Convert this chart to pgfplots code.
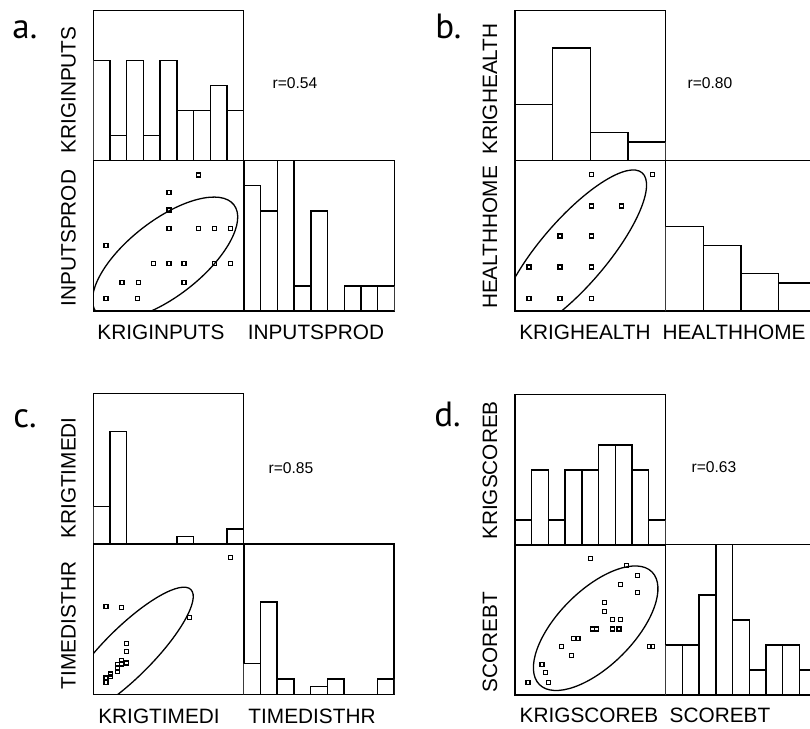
\documentclass[border=0pt]{standalone}
\usepackage{fontspec}
\setmainfont{Liberation Sans}
\newfontfamily\letterfont{PT Sans}
\usepackage{pgfplots}
\pgfplotsset{compat=1.18}
\pgfplotsset{
  cell/.style={scale only axis, width=75.25pt, height=75.25pt, xtick=\empty, ytick=\empty,
    axis line style={line width=0.7pt}, anchor=south west},
  hist/.style={cell, ymin=0, xmin=0},
  scat/.style={cell, xmin=0, xmax=100, ymin=0, ymax=100},
  bars/.style={ybar interval, fill=white, draw=black, line width=0.7pt},
  pts/.style={only marks, mark=square, mark size=1pt,
    mark options={line width=0.6pt, draw=black, fill=white}},
}
\tikzset{ell/.style={line width=0.65pt, black}}
\newcommand{\lab}{\fontsize{10.4}{12}\selectfont}
\newcommand{\rlab}{\fontsize{7.8}{9}\selectfont}
\newcommand{\plab}{\letterfont\fontsize{17.5}{20}\selectfont}
\begin{document}
\begin{tikzpicture}
\path[use as bounding box] (0,0) rectangle (405pt,364.5pt);
\clip (0,0) rectangle (405pt,364.5pt);

% ===== Panel a =====
\begin{axis}[hist, at={(46.65pt,284.1pt)}, xmax=9, ymax=6]
\addplot[bars] coordinates {(0,4) (1,1) (2,4) (3,1) (4,4) (5,2) (6,2) (7,3) (8,2) (9,0)};
\end{axis}
\begin{axis}[scat, at={(46.65pt,208.9pt)}]
\addplot[pts] coordinates {(70.1,90.5) (50.3,78.9) (50.3,67.2) (50.3,55.0) (70.1,55.0) (80.3,55.0) (90.9,55.0) (8.4,43.5) (39.9,31.7) (50.3,31.7) (60.3,31.7) (80.3,31.7) (90.9,31.7) (19.1,19.3) (29.9,19.3) (60.3,19.3) (8.4,8.2) (29.5,8.2)};
\begin{scope}
\clip (rel axis cs:0,0) rectangle (rel axis cs:1,1);
\draw[ell, rotate around={38:(axis cs:47.7,35)}] (axis cs:47.7,35) ellipse [x radius=43.65pt, y radius=18.89pt];
\end{scope}
\end{axis}
\begin{axis}[hist, at={(122pt,208.9pt)}, xmax=9, ymax=6]
\addplot[bars] coordinates {(0,5) (1,4) (2,6) (3,1) (4,4) (5,0) (6,1) (7,1) (8,1) (9,0)};
\end{axis}

% ===== Panel b =====
\begin{axis}[hist, at={(257.5pt,284.1pt)}, xmax=4, ymax=16]
\addplot[bars] coordinates {(0,6) (1,12) (2,3) (3,2) (4,0)};
\end{axis}
\begin{axis}[scat, at={(257.5pt,208.9pt)}]
\addplot[pts] coordinates {(50.7,90.7) (91.4,90.7) (50.7,69.9) (70.6,69.9) (29.9,50.0) (50.7,50.0) (9.3,29.4) (29.9,29.4) (50.7,29.4) (9.3,8.4) (29.9,8.4) (50.7,8.4)};
\begin{scope}
\clip (rel axis cs:0,0) rectangle (rel axis cs:1,1);
\draw[ell, rotate around={49.3:(axis cs:38.5,38.5)}] (axis cs:38.5,38.5) ellipse [x radius=53.05pt, y radius=16.56pt];
\end{scope}
\end{axis}
\begin{axis}[hist, at={(332.85pt,208.9pt)}, xmax=4, ymax=16]
\addplot[bars] coordinates {(0,9) (1,7) (2,4) (3,3) (4,0)};
\end{axis}

% ===== Panel c =====
\begin{axis}[hist, at={(46.65pt,92.4pt)}, xmax=9, ymax=20]
\addplot[bars] coordinates {(0,5) (1,15) (2,0) (3,0) (4,0) (5,1) (6,0) (7,0) (8,2) (9,0)};
\end{axis}
\begin{axis}[scat, at={(46.65pt,17.25pt)}]
\addplot[pts] coordinates {(90.9,90.9) (8.4,58.7) (18.9,57.6) (63.8,51.1) (22.0,33.8) (22.0,28.7) (22.0,20.9) (18.9,22.4) (18.9,20.2) (16.0,19.8) (16.0,17.6) (16.0,15.1) (11.6,13.6) (11.6,11.8) (8.4,10.9) (8.4,8.2)};
\begin{scope}
\clip (rel axis cs:0,0) rectangle (rel axis cs:1,1);
\draw[ell, rotate around={45:(axis cs:22.9,27.8)}] (axis cs:22.9,27.8) ellipse [x radius=44.62pt, y radius=12.34pt];
\end{scope}
\end{axis}
\begin{axis}[hist, at={(121.85pt,17.25pt)}, xmax=9, ymax=19.5]
\addplot[bars] coordinates {(0,4) (1,12) (2,2) (3,0) (4,1) (5,2) (6,0) (7,0) (8,2) (9,0)};
\end{axis}

% ===== Panel d =====
\begin{axis}[hist, at={(257.5pt,91.9pt)}, xmax=9, ymax=6]
\addplot[bars] coordinates {(0,1) (1,3) (2,1) (3,3) (4,3) (5,4) (6,4) (7,3) (8,1) (9,0)};
\end{axis}
\begin{axis}[scat, at={(257.5pt,16.9pt)}]
\addplot[pts] coordinates {(50.0,90.9) (74.0,86.4) (81.3,79.6) (70.2,73.3) (81.3,68.0) (59.6,61.8) (59.6,55.6) (64.9,50.2) (70.0,50.2) (51.3,44.0) (54.2,44.0) (64.9,44.0) (69.1,44.0) (38.7,37.8) (41.8,37.8) (31.1,32.4) (89.1,32.4) (91.3,32.4) (37.8,26.2) (18.0,20.2) (20.0,14.9) (8.7,8.7) (22.2,8.7)};
\begin{scope}
\clip (rel axis cs:0,0) rectangle (rel axis cs:1,1);
\draw[ell, rotate around={45:(axis cs:53.6,44.5)}] (axis cs:53.6,44.5) ellipse [x radius=39.81pt, y radius=18.81pt];
\end{scope}
\end{axis}
\begin{axis}[hist, at={(332.85pt,16.9pt)}, xmax=9, ymax=6]
\addplot[bars] coordinates {(0,2) (1,2) (2,4) (3,6) (4,3) (5,1) (6,2) (7,2) (8,1) (9,0)};
\end{axis}

% ===== Text =====
\node[anchor=base west, inner sep=0] at (6pt,345pt) {\plab a.};
\node[anchor=base west, inner sep=0] at (217.5pt,345pt) {\plab b.};
\node[anchor=base west, inner sep=0] at (6.5pt,150.5pt) {\plab c.};
\node[anchor=base west, inner sep=0] at (217pt,151pt) {\plab d.};

\node[anchor=base, inner sep=0] at (80.5pt,194.5pt) {\lab KRIGINPUTS};
\node[anchor=base, inner sep=0] at (158pt,194.5pt) {\lab INPUTSPROD};
\node[anchor=base, inner sep=0] at (292.5pt,194.5pt) {\lab KRIGHEALTH};
\node[anchor=base, inner sep=0] at (367pt,194.5pt) {\lab HEALTHHOME};
\node[anchor=base, inner sep=0] at (79.5pt,2.85pt) {\lab KRIGTIMEDI};
\node[anchor=base, inner sep=0] at (156pt,2.85pt) {\lab TIMEDISTHR};
\node[anchor=base, inner sep=0] at (294.5pt,3pt) {\lab KRIGSCOREB};
\node[anchor=base, inner sep=0] at (360pt,3pt) {\lab SCOREBT};

\node[rotate=90, inner sep=0] at (34.25pt,319.5pt) {\lab KRIGINPUTS};
\node[rotate=90, inner sep=0] at (34.25pt,245.5pt) {\lab INPUTSPROD};
\node[rotate=90, inner sep=0] at (245pt,320pt) {\lab KRIGHEALTH};
\node[rotate=90, inner sep=0] at (245pt,245.75pt) {\lab HEALTHHOME};
\node[rotate=90, inner sep=0] at (34.25pt,125.5pt) {\lab KRIGTIMEDI};
\node[rotate=90, inner sep=0] at (34.25pt,51.75pt) {\lab TIMEDISTHR};
\node[rotate=90, inner sep=0] at (245pt,129.25pt) {\lab KRIGSCOREB};
\node[rotate=90, inner sep=0] at (245pt,43.25pt) {\lab SCOREBT};

\node[inner sep=0] at (147.5pt,323pt) {\rlab r=0.54};
\node[inner sep=0] at (355pt,323pt) {\rlab r=0.80};
\node[inner sep=0] at (145.5pt,130.5pt) {\rlab r=0.85};
\node[inner sep=0] at (357pt,131pt) {\rlab r=0.63};
\end{tikzpicture}
\end{document}
